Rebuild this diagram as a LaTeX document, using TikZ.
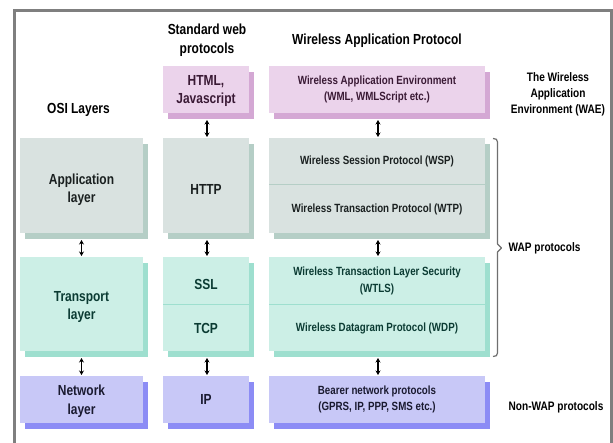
\documentclass[tikz,border=0pt]{standalone}
\usepackage{fontspec}
\setmainfont{Liberation Sans}[FakeStretch=0.82]
\usetikzlibrary{arrows.meta,shadows}
\definecolor{pinkF}{HTML}{EBD3EB}
\definecolor{pinkS}{HTML}{D4A8D4}
\definecolor{pinkT}{HTML}{3A1A35}
\definecolor{grayF}{HTML}{D9E2E0}
\definecolor{grayS}{HTML}{B5CEC6}
\definecolor{grayT}{HTML}{1A2020}
\definecolor{tealF}{HTML}{CCEFE6}
\definecolor{tealS}{HTML}{9EDFCF}
\definecolor{tealT}{HTML}{0B3B33}
\definecolor{blueF}{HTML}{C8C8F7}
\definecolor{blueS}{HTML}{8C8CF5}
\definecolor{blueT}{HTML}{1A1A30}
\definecolor{frameC}{HTML}{7F7F7F}
\definecolor{braceC}{HTML}{6F6F6F}
\newcommand{\bigf}{\fontsize{14.6}{18.5}\selectfont\bfseries}
\newcommand{\smlf}{\fontsize{11.9}{16.5}\selectfont\bfseries}
\newcommand{\sidef}{\fontsize{12.3}{16}\selectfont\bfseries}
\tikzset{
  lay/.style={inner sep=0pt, outer sep=0pt, align=center, font=\bigf},
  pinkbox/.style={lay, fill=pinkF, text=pinkT, general shadow={fill=pinkS, shadow xshift=5pt, shadow yshift=-6pt}},
  graybox/.style={lay, fill=grayF, text=grayT, general shadow={fill=grayS, shadow xshift=5pt, shadow yshift=-6pt}},
  tealbox/.style={lay, fill=tealF, text=tealT, general shadow={fill=tealS, shadow xshift=5pt, shadow yshift=-6pt}},
  bluebox/.style={lay, fill=blueF, text=blueT, general shadow={fill=blueS, shadow xshift=5pt, shadow yshift=-6pt}},
  boxlabel/.style={inner sep=0pt, align=center, font=\bigf},
  colA/.style={minimum width=123pt},
  colB/.style={minimum width=86pt},
  colC/.style={minimum width=216pt, font=\smlf},
  updown/.style={{Stealth[length=4.5pt,width=5pt]}-{Stealth[length=4.5pt,width=5pt]}, line width=1.1pt, black},
  header/.style={align=center, font=\bigf, text=black, inner sep=0pt},
  side/.style={align=center, font=\sidef, text=black, inner sep=0pt},
  divider/.style={line width=1pt}
}
\begin{document}
\begin{tikzpicture}[x=1pt,y=-1pt]
\useasboundingbox (0,0) rectangle (613,443);
\clip (0,0) rectangle (613,443);
\fill[white] (0,0) rectangle (613,443);
\draw[frameC, line width=3pt] (14,11) rectangle (611.5,470);

% headers
\node[header] (hstd) at (207,40) {Standard web\\protocols};
\node[header] (hwap) at (377,40.5) {Wireless Application Protocol};
\node[header] (hosi) at (78.5,110) {OSI Layers};

% column A (OSI)
\node[graybox, colA, minimum height=95pt] (app) at (81.5,185.5) {};
\node[boxlabel, text=grayT] (applbl) at ([yshift=-4pt]app.center) {Application\\layer};
\node[tealbox, colA, minimum height=94pt] (trans) at (81.5,304) {};
\node[boxlabel, text=tealT] (translbl) at ([yshift=-3pt]trans.center) {Transport\\layer};
\node[bluebox, colA, minimum height=47pt] (net) at (81.5,399.5) {};
\node[boxlabel, text=blueT] (netlbl) at ([yshift=-1.5pt]net.center) {Network\\layer};

% column B (standard web)
\node[pinkbox, colB, minimum height=47pt] (html) at (206,89.5) {};
\node[boxlabel, text=pinkT] (htmllbl) at ([yshift=-1.5pt]html.center) {HTML,\\Javascript};
\node[graybox, colB, minimum height=95pt] (http) at (206,185.5) {};
\node[boxlabel, text=grayT] (httplbl) at ([yshift=-4pt]http.center) {HTTP};
\node[tealbox, colB, minimum height=48pt] (ssl) at (206,281) {};
\node[boxlabel, text=tealT] (ssllbl) at ([yshift=-3pt]ssl.center) {SSL};
\node[tealbox, colB, minimum height=46pt] (tcp) at (206,328) {TCP};
\node[bluebox, colB, minimum height=47pt] (ip) at (206,399.5) {IP};

% column C (WAP)
\node[pinkbox, colC, minimum height=47pt] (wae) at (377,89.5) {Wireless Application Environment\\(WML, WMLScript etc.)};
\node[graybox, colC, minimum height=47pt] (wsp) at (377,161.5) {Wireless Session Protocol (WSP)};
\node[graybox, colC, minimum height=48pt] (wtp) at (377,209) {Wireless Transaction Protocol (WTP)};
\node[tealbox, colC, minimum height=48pt] (wtls) at (377,281) {Wireless Transaction Layer Security\\(WTLS)};
\node[tealbox, colC, minimum height=46pt] (wdp) at (377,328) {Wireless Datagram Protocol (WDP)};
\node[bluebox, colC, minimum height=47pt] (bearer) at (377,399.5) {Bearer network protocols\\(GPRS, IP, PPP, SMS etc.)};

% dividers
\draw[divider, grayS] (wsp.south west) -- (wsp.south east);
\draw[divider, tealS] (ssl.south west) -- (ssl.south east);
\draw[divider, tealS] (wtls.south west) -- (wtls.south east);

% arrows
\draw[updown] ([yshift=-7pt]app.south) -- ([yshift=1pt]trans.north);
\draw[updown] ([yshift=-7pt]trans.south) -- ([yshift=1pt]net.north);
\draw[updown] ([xshift=1pt,yshift=-7pt]html.south) -- ([xshift=1pt,yshift=1pt]http.north);
\draw[updown] ([xshift=1pt,yshift=-7pt]http.south) -- ([xshift=1pt,yshift=1pt]ssl.north);
\draw[updown] ([xshift=1pt,yshift=-7pt]tcp.south) -- ([xshift=1pt,yshift=1pt]ip.north);
\draw[updown] ([xshift=1pt,yshift=-7pt]wae.south) -- ([xshift=1pt,yshift=1pt]wsp.north);
\draw[updown] ([xshift=1pt,yshift=-7pt]wtp.south) -- ([xshift=1pt,yshift=1pt]wtls.north);
\draw[updown] ([xshift=1pt,yshift=-7pt]wdp.south) -- ([xshift=1pt,yshift=1pt]bearer.north);

% brace
\draw[braceC, line width=1.2pt, line join=round]
  (493,138.5) .. controls (496,138.5) and (497.5,139.5) .. (497.5,142)
  -- (497.5,244) -- (501.5,248) -- (497.5,252) -- (497.5,353)
  .. controls (497.5,355.5) and (496,356.5) .. (493,356.5);

% side labels
\node[side] (wael) at (558,94) {The Wireless\\Application\\Environment (WAE)};
\node[side, anchor=west] (wapl) at (508.5,248) {WAP protocols};
\node[side, anchor=west] (nonwap) at (508.5,407.5) {Non-WAP protocols};
\end{tikzpicture}
\end{document}
